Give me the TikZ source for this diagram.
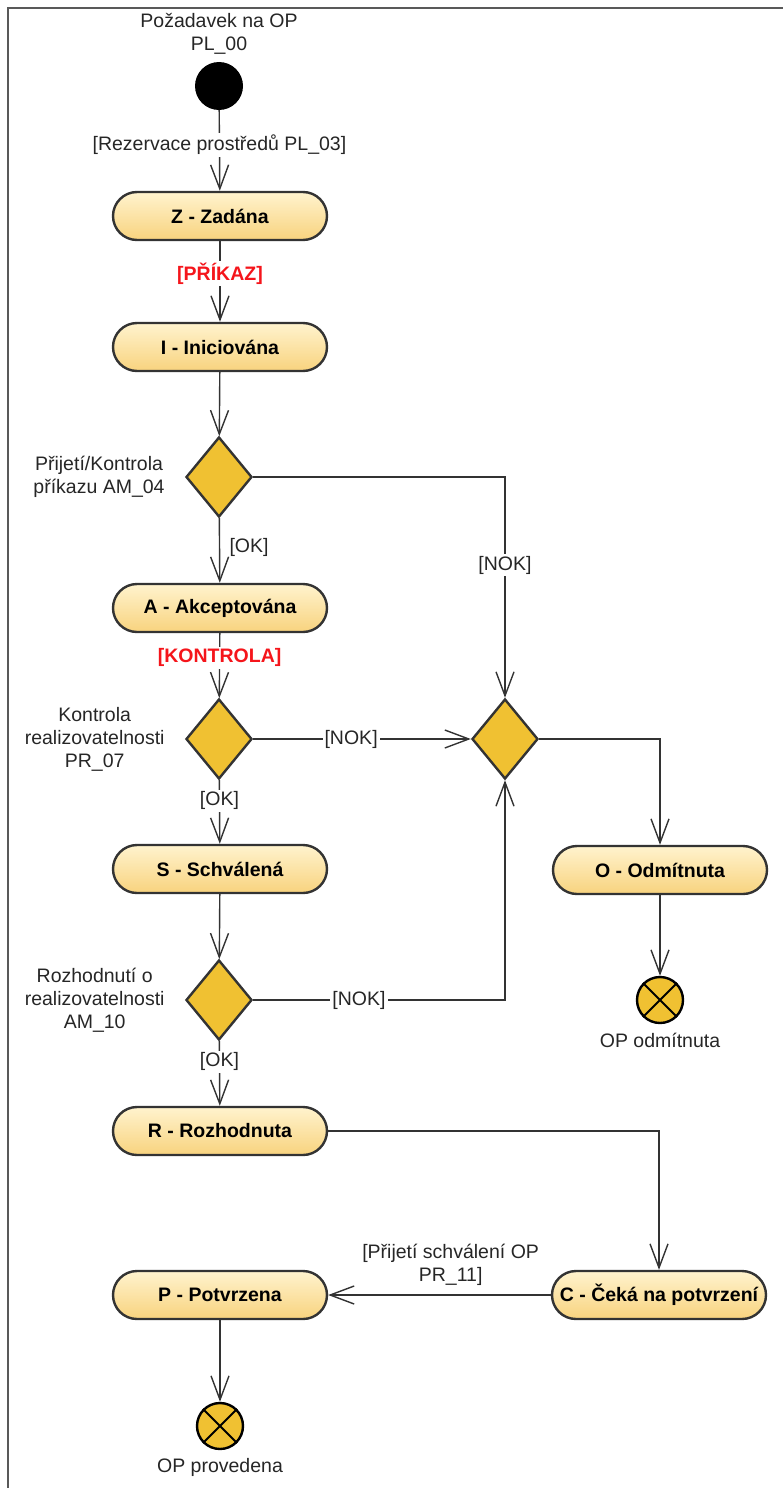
\documentclass[tikz,border=0pt]{standalone}
\usepackage{fontspec}
\setmainfont{Liberation Sans}
\usetikzlibrary{positioning,shapes.geometric,arrows.meta}
\definecolor{lineclr}{HTML}{333333}
\definecolor{boxtop}{HTML}{FFF3CE}
\definecolor{boxbot}{HTML}{F8D37E}
\definecolor{gold}{HTML}{F0C132}
\definecolor{guard}{HTML}{F5151B}
\begin{document}
\begin{tikzpicture}[x=1pt,y=-1pt,font=\fontsize{19.5}{23}\selectfont,text=black!85]
            \tikzset{
                state/.style={draw=lineclr,line width=2.4pt,rounded corners=24pt,top color=boxtop,bottom color=boxbot,
                    minimum width=214pt,minimum height=48pt,font=\fontsize{19.5}{23}\selectfont\bfseries,text=black},
                decision/.style={diamond,draw=lineclr,line width=2.4pt,fill=gold,inner sep=0pt,minimum width=66pt,minimum height=80pt},
                final/.style={circle,draw=black,line width=2.4pt,fill=gold,inner sep=0pt,minimum size=46pt},
                flow/.style={draw=lineclr,line width=1.4pt,-{Straight Barb[length=24pt,width=18pt,line width=1.4pt]}},
                lbl/.style={fill=white,inner sep=2pt},
                redlbl/.style={fill=white,inner sep=2pt,text=guard,font=\fontsize{19.5}{23}\selectfont\bfseries},
                note/.style={align=center,inner sep=0pt}}
            \useasboundingbox (0,0) rectangle (783,1488);
            \draw [gray!70!black,line width=2pt](783,8) -- (8,8) -- (8,1488);
            % states
            \node [circle,fill=black,minimum size=48pt,inner sep=0pt] (start) at (219,86) {};
            \node [note] (startlbl) at (219,34) {Požadavek na OP\\PL\_00};
            \node [state] (Z) at (220,216) {Z - Zadána};
            \node [state] (I) at (220,347) {I - Iniciována};
            \node [decision] (d1) at (219,477) {};
            \node [state] (A) at (220,608) {A - Akceptována};
            \node [decision] (d2) at (219,739) {};
            \node [decision] (d3) at (505,739) {};
            \node [state] (S) at (220,869) {S - Schválená};
            \node [state] (O) at (660,870) {O - Odmítnuta};
            \node [decision] (d4) at (219,1000) {};
            \node [final] (endO) at (660,1000) {};
            \node [state] (R) at (220,1131) {R - Rozhodnuta};
            \node [state] (C) at (659,1295) {C - Čeká na potvrzení};
            \node [state] (P) at (220,1295) {P - Potvrzena};
            \node [final] (endP) at (220,1426) {};
            \draw [line width=2pt] (endO.north west) -- (endO.south east) (endO.north east) -- (endO.south west);
            \draw [line width=2pt] (endP.north west) -- (endP.south east) (endP.north east) -- (endP.south west);
            \node [note,left=20pt of d1] (d1lbl) {Přijetí/Kontrola\\příkazu AM\_04};
            \node [note,left=20pt of d2] (d2lbl) {Kontrola\\realizovatelnosti\\PR\_07};
            \node [note,left=20pt of d4] (d4lbl) {Rozhodnutí o\\realizovatelnosti\\AM\_10};
            \node [below=5pt of endO] (endOlbl) {OP odmítnuta};
            \node [below=5pt of endP] (endPlbl) {OP provedena};
            % transitions
            \draw [flow] (start) -- node[lbl,pos=0.43]{[Rezervace prostředů PL\_03]} (Z);
            \draw [flow] (Z) -- node[redlbl,pos=0.4]{[PŘÍKAZ]} (I);
            \draw [flow] (I) -- (d1);
            \draw [flow] (d1) -- node[right=6pt,pos=0.45]{[OK]} (A);
            \draw [flow] (d1.east) -| node[lbl,pos=0.7]{[NOK]} (d3.north);
            \draw [flow] (A) -- node[redlbl,pos=0.38]{[KONTROLA]} (d2);
            \draw [flow] (d2) -- node[lbl,pos=0.45]{[NOK]} (d3);
            \draw [flow] (d2) -- node[lbl,pos=0.33]{[OK]} (S);
            \draw [flow] (S) -- (d4);
            \draw [flow] (d4.east) -| node[lbl,pos=0.21]{[NOK]} (d3.south);
            \draw [flow] (d4) -- node[lbl,pos=0.32]{[OK]} (R);
            \draw [flow] (d3.east) -| (O.north);
            \draw [flow] (O) -- (endO);
            \draw [flow] (R.east) -| (C.north);
            \draw [flow] (C) -- node[above=5pt,pos=0.45,align=center]{[Přijetí schválení OP\\PR\_11]} (P);
            \draw [flow] (P) -- (endP);
        \end{tikzpicture}
\end{document}
